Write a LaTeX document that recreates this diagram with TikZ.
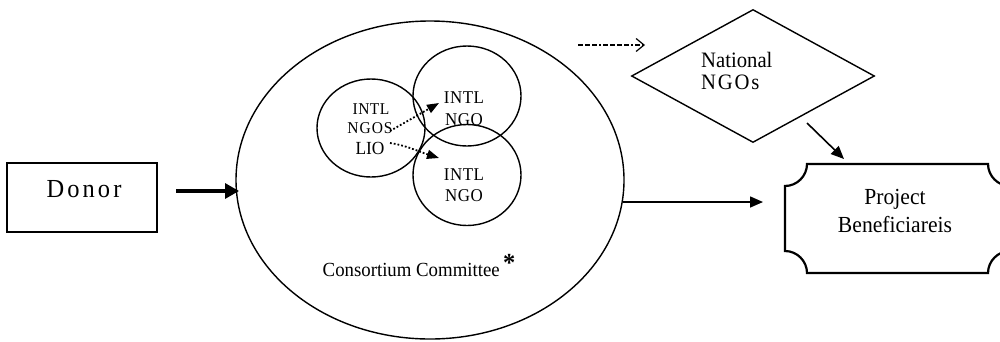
\documentclass[tikz,border=0pt]{standalone}
\usepackage{fontspec}
\setmainfont[FakeStretch=0.94]{Liberation Serif}
\usetikzlibrary{arrows.meta,shapes.geometric}
\tikzset{
  oval/.style={draw, ellipse, line width=1.4pt, inner sep=0pt},
  lbl/.style={inner sep=0pt, anchor=base},
  solidarrow/.style={line width=1.6pt, -{Triangle[length=13pt,width=11pt]}},
  dotarrow/.style={dotted, line width=1.8pt, -{Triangle[length=12pt,width=9pt]}},
}
\begin{document}
\begin{tikzpicture}[x=1pt,y=-1pt]
\clip (0,0) rectangle (1000,341);
\useasboundingbox (0,0) rectangle (1000,341);

% Donor
\node[draw, line width=1.5pt, minimum width=150, minimum height=69, inner sep=0pt] (donor) at (82,197.5) {};
\node[lbl, font=\fontsize{26}{26}\selectfont\addfontfeature{LetterSpace=12}] (donortxt) at (84,197) {Donor};

% big ellipse
\node[oval, minimum width=388, minimum height=318] (big) at (430,180) {};
\node[lbl, font=\fontsize{20}{20}\selectfont] (cc) at (419,276) {Consortium Committee\,\raisebox{5pt}{\fontsize{26}{26}\selectfont\bfseries *}};

% small circles
\node[oval, minimum width=108, minimum height=98] (c0) at (371,128) {};
\node[oval, minimum width=108, minimum height=100] (c1) at (467,96) {};
\node[oval, minimum width=108, minimum height=101] (c2) at (467,175) {};

\node[lbl, font=\fontsize{16.5}{16.5}\selectfont\addfontfeature{LetterSpace=3}] (t0a) at (371,114) {INTL};
\node[lbl, font=\fontsize{16.5}{16.5}\selectfont\addfontfeature{LetterSpace=6}] (t0b) at (370,133) {NGOS};
\node[lbl, font=\fontsize{18.5}{18.5}\selectfont] (t0c) at (370,154) {LIO};
\node[lbl, font=\fontsize{18}{18}\selectfont\addfontfeature{LetterSpace=3}] (t1a) at (464,103) {INTL};
\node[lbl, font=\fontsize{18}{18}\selectfont\addfontfeature{LetterSpace=3}] (t1b) at (464,125) {NGO};
\node[lbl, font=\fontsize{18}{18}\selectfont\addfontfeature{LetterSpace=3}] (t2a) at (464,180) {INTL};
\node[lbl, font=\fontsize{18}{18}\selectfont\addfontfeature{LetterSpace=3}] (t2b) at (464,201) {NGO};

\coordinate (d1s) at (390,131);
\coordinate (d1e) at (439,103);
\coordinate (d2s) at (390,143);
\coordinate (d2e) at (439,158);
\draw[dotarrow] (d1s) -- (d1e);
\draw[dotarrow] (d2s) .. controls (405,145) and (420,152) .. (d2e);

% diamond
\node[draw, diamond, line width=1.4pt, minimum width=243, minimum height=133, inner sep=0pt] (nat) at (753,76) {};
\node[lbl, anchor=base west, font=\fontsize{22}{22}\selectfont] (nata) at (701,67) {National};
\node[lbl, anchor=base west, font=\fontsize{22}{22}\selectfont\addfontfeature{LetterSpace=8}] (natb) at (701,89) {NGOs};

% dashed arrow
\coordinate (dashs) at (578,45);
\coordinate (dashe) at (645,45);
\draw[dash pattern=on 5pt off 2pt on 5pt off 2pt on 5pt off 2pt on 2pt off 2pt on 5pt off 2pt, line width=1.2pt, -{Straight Barb[length=8pt,width=13pt,line width=1.2pt]}] (dashs) -- (dashe);

% project box
\node[lbl, font=\fontsize{23}{23}\selectfont] (proja) at (895,204) {Project};
\node[lbl, font=\fontsize{23}{23}\selectfont] (projb) at (895,232) {Beneficiareis};
\draw[line width=2.2pt]
  (785,186) .. controls (797,186) and (807,176) .. (807,164)
  -- (988,164) .. controls (988,176) and (998,186) .. (1010,186)
  -- (1010,251) .. controls (998,251) and (988,261) .. (988,273)
  -- (807,273) .. controls (807,261) and (797,251) .. (785,251)
  -- cycle;

% connectors
\coordinate (da) at (176,191);
\coordinate (db) at (239,191);
\draw[line width=3.2pt, -{Triangle[length=14pt,width=15pt]}] (da) -- (db);

\coordinate (ea) at (623,202);
\coordinate (eb) at (763,202);
\draw[solidarrow] (ea) -- (eb);

\coordinate (na) at (807,123);
\coordinate (nb) at (844,159);
\draw[solidarrow] (na) -- (nb);
\end{tikzpicture}
\end{document}
